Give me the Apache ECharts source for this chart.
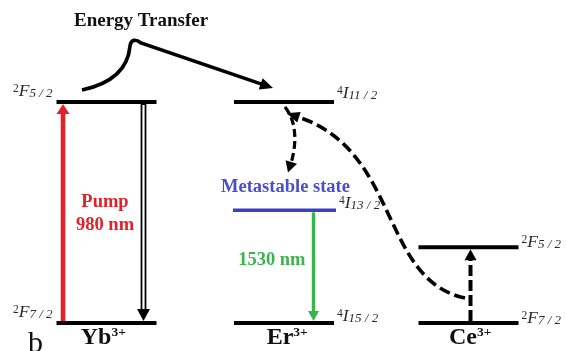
<!DOCTYPE html>
<html>
<head>
<meta charset="utf-8">
<script src="https://cdn.jsdelivr.net/npm/echarts@6/dist/echarts.min.js"></script>
<style>
  html, body { margin: 0; padding: 0; background: #fff; }
  #chart { width: 566px; height: 351px; }
</style>
</head>
<body>
<div id="chart"></div>
<script>
// ---- Data: relative energies of the levels (diagram scale, ×10³ cm⁻¹) ----
const ions = ['Yb', 'Er', 'Ce'];
const ionCharges = ['3+', '3+', '3+'];
const ybLevels = [0, 10.2];
const erLevels = [0, 5.2, 10.2];
const ceLevels = [0, 3.5];
// term symbols: [multiplicity, L letter, J]
const ybTerms = [['2', 'F', '7 / 2'], ['2', 'F', '5 / 2']];
const erTerms = [['4', 'I', '15 / 2'], ['4', 'I', '13 / 2'], ['4', 'I', '11 / 2']];
const ceTerms = [['2', 'F', '7 / 2'], ['2', 'F', '5 / 2']];
const pumpLabel = ['Pump', '980 nm'];
const emissionLabel = '1530 nm';
const metastableLabel = 'Metastable state';
const transferLabel = 'Energy Transfer';
const panelLetter = 'b';

// ---- Layout and styles ----
const SERIF = '"Liberation Serif", "DejaVu Serif", serif';
const RED = '#e1222b';
const GREEN = '#3bb44b';
const BLUE_LINE = '#3a3ec8';
const BLUE_TEXT = '#4b4fc9';
const INK = '#000';
const TERM_INK = '#2b2b2b';
const colX = { Yb: 106.5, Er: 284, Ce: 468.5 };
const LEVEL_HALF = 50;
const LEVEL_W = 4;
// vertical offset of each term label above its level line
const termDy = { left: -10.5, right: -6.5 };

// level records built from the arrays above
const levelItems = [];
function addLevels(ion, energies, terms, side) {
  energies.forEach((E, i) => {
    levelItems.push({ ion, E, term: terms[i], side, color: INK, width: LEVEL_W, half: LEVEL_HALF, dx: 0, dy: termDy[side] });
  });
}
addLevels('Yb', ybLevels, ybTerms, 'left');
addLevels('Er', erLevels, erTerms, 'right');
addLevels('Ce', ceLevels, ceTerms, 'right');
// the metastable Er level is drawn in blue with its caption
const meta = levelItems.find(d => d.ion === 'Er' && d.E === erLevels[1]);
Object.assign(meta, { color: BLUE_LINE, width: 3.5, half: 51.5, dx: 0.5, caption: metastableLabel });
levelItems.find(d => d.ion === 'Er' && d.E === erLevels[2]).dy = -8.5;
levelItems.filter(d => d.ion === 'Ce').forEach(d => { d.dy = -4.5; });

// radiative / excitation arrows
const transitionItems = [
  { ion: 'Yb', dx: -43.5, from: ybLevels[0], to: ybLevels[1], color: RED, width: 4.6, headLen: 10, headW: 13, kind: 'solid', label: 'pump' },
  { ion: 'Yb', dx: 37, from: ybLevels[1], to: ybLevels[0], color: INK, width: 5.8, headLen: 12, headW: 13, kind: 'double' },
  { ion: 'Er', dx: 29.5, from: erLevels[1], to: erLevels[0], color: GREEN, width: 3.4, headLen: 10, headW: 11, kind: 'solid', label: 'emission' },
  { ion: 'Ce', dx: 2, from: ceLevels[0], to: ceLevels[1], color: INK, width: 4, headLen: 11, headW: 12, kind: 'dashed' }
];

// curved energy-transfer / relaxation paths, anchored on levels
const curveItems = [
  { id: 'transfer', from: ['Yb', ybLevels[1]], to: ['Er', erLevels[2]] },
  { id: 'ceToEr', from: ['Ce', ceLevels[0]], to: ['Er', erLevels[2]] },
  { id: 'relax', from: ['Er', erLevels[2]], to: ['Er', erLevels[1]] }
];

function unit(a, b) {
  const dx = b[0] - a[0], dy = b[1] - a[1];
  const l = Math.hypot(dx, dy) || 1;
  return [dx / l, dy / l];
}
function headPoints(tip, dir, len, wid) {
  const bx = tip[0] - dir[0] * len, by = tip[1] - dir[1] * len;
  const px = -dir[1], py = dir[0];
  return [[tip[0], tip[1]], [bx + px * wid / 2, by + py * wid / 2], [bx - px * wid / 2, by - py * wid / 2]];
}
function add(p, d) { return [p[0] + d[0], p[1] + d[1]]; }

const termRich = {
  s: { fontFamily: SERIF, fontSize: 11.5, fill: TERM_INK, verticalAlign: 'top', lineHeight: 11 },
  L: { fontFamily: SERIF, fontSize: 17.5, fontStyle: 'italic', fill: TERM_INK, lineHeight: 17 },
  j: { fontFamily: SERIF, fontSize: 13, fontStyle: 'italic', fill: TERM_INK, verticalAlign: 'bottom', lineHeight: 12 }
};

function renderLevel(params, api) {
  const it = levelItems[params.dataIndex];
  const cx = colX[it.ion] + it.dx;
  const a = api.coord([cx - it.half, it.E]);
  const b = api.coord([cx + it.half, it.E]);
  const t = it.term;
  const children = [
    { type: 'line', shape: { x1: a[0], y1: a[1], x2: b[0], y2: b[1] }, style: { stroke: it.color, lineWidth: it.width } },
    {
      type: 'text',
      x: it.side === 'left' ? a[0] - 4 : b[0] + 3,
      y: a[1] + it.dy,
      style: {
        text: '{s|' + t[0] + '}{L|' + t[1] + '}{j|' + t[2] + '}',
        rich: termRich,
        align: it.side === 'left' ? 'right' : 'left',
        verticalAlign: 'middle'
      }
    }
  ];
  if (it.caption) {
    children.push({
      type: 'text', x: (a[0] + b[0]) / 2 + 1, y: a[1] - 23.5,
      style: { text: it.caption, fontFamily: SERIF, fontWeight: 'bold', fontSize: 18.5, fill: BLUE_TEXT, align: 'center', verticalAlign: 'middle' }
    });
  }
  return { type: 'group', children };
}

function renderTransition(params, api) {
  const t = transitionItems[params.dataIndex];
  const x = colX[t.ion] + t.dx;
  const p0 = api.coord([x, t.from]);
  const p1 = api.coord([x, t.to]);
  const dir = unit(p0, p1);
  const inset = LEVEL_W / 2;
  const start = [p0[0] + dir[0] * inset, p0[1] + dir[1] * inset];
  const tip = [p1[0] - dir[0] * inset, p1[1] - dir[1] * inset];
  const base = [tip[0] - dir[0] * (t.headLen - 1), tip[1] - dir[1] * (t.headLen - 1)];
  const children = [];
  const shaft = { x1: start[0], y1: start[1], x2: base[0], y2: base[1] };
  if (t.kind === 'double') {
    children.push({ type: 'line', shape: shaft, style: { stroke: t.color, lineWidth: t.width } });
    children.push({ type: 'line', shape: { x1: start[0], y1: start[1] + 1, x2: base[0], y2: base[1] - 1 }, style: { stroke: '#fff', lineWidth: 2.2 } });
  } else {
    children.push({ type: 'line', shape: shaft, style: { stroke: t.color, lineWidth: t.width, lineDash: t.kind === 'dashed' ? [11, 4] : null } });
  }
  children.push({ type: 'polygon', shape: { points: headPoints(tip, dir, t.headLen, t.headW) }, style: { fill: t.color } });

  if (t.label === 'pump') {
    const mid = (p0[1] + p1[1]) / 2;
    children.push({
      type: 'text', x: x + 42, y: mid + 1,
      style: { text: pumpLabel.join('\n'), fontFamily: SERIF, fontWeight: 'bold', fontSize: 18.5, lineHeight: 23.5, fill: RED, align: 'center', verticalAlign: 'middle' }
    });
  } else if (t.label === 'emission') {
    const mid = (p0[1] + p1[1]) / 2;
    children.push({
      type: 'text', x: x - 8, y: mid - 6,
      style: { text: emissionLabel, fontFamily: SERIF, fontWeight: 'bold', fontSize: 18.5, fill: GREEN, align: 'right', verticalAlign: 'middle' }
    });
  }
  return { type: 'group', children };
}

function renderCurve(params, api) {
  const c = curveItems[params.dataIndex];
  const children = [];
  if (c.id === 'transfer') {
    // rises from the Yb excited level, hooks over and runs down to the Er 4I11/2 level
    const S = add(api.coord([colX.Yb - 24.5, c.from[1]]), [0, -12]);
    const T = add(api.coord([colX.Er - 11, c.to[1]]), [0, -14]);
    const c1 = add(S, [28, -6]), c2 = add(S, [46, -20]), k = add(S, [48, -44]);
    const c3 = add(S, [49, -51]), c4 = add(S, [54, -51]), k2 = add(S, [59, -47]);
    const dir = unit(k2, T);
    const base = [T[0] - dir[0] * 12, T[1] - dir[1] * 12];
    const d = 'M' + S + 'C' + c1 + ' ' + c2 + ' ' + k + 'C' + c3 + ' ' + c4 + ' ' + k2 + 'L' + base;
    children.push({ type: 'path', shape: { pathData: d }, style: { stroke: INK, lineWidth: 3.6, fill: null } });
    children.push({ type: 'polygon', shape: { points: headPoints(T, dir, 13, 12) }, style: { fill: INK } });
    children.push({
      type: 'text', x: 74, y: 20.6,
      style: { text: transferLabel, fontFamily: SERIF, fontWeight: 'bold', fontSize: 19, fill: '#111', align: 'left', verticalAlign: 'middle' }
    });
  } else if (c.id === 'ceToEr') {
    // dashed S-curve from the Ce ground state back up to Er 4I11/2
    const S = add(api.coord([colX.Ce - 3.5, c.from[1]]), [0, -25]);
    const T = add(api.coord([colX.Er + 2, c.to[1]]), [0, 11]);
    const c1 = add(S, [-85, -18]);
    const c2 = add(S, [-65, -148]);
    const B = add(T, [12, 4]);
    const dir = unit(c2, B);
    children.push({
      type: 'bezierCurve',
      shape: { x1: S[0], y1: S[1], cpx1: c1[0], cpy1: c1[1], cpx2: c2[0], cpy2: c2[1], x2: B[0], y2: B[1] },
      style: { stroke: INK, lineWidth: 3.6, fill: null, lineDash: [11, 5] }
    });
    children.push({ type: 'polygon', shape: { points: headPoints(add(B, [dir[0] * 12, dir[1] * 12]), dir, 13, 11) }, style: { fill: INK } });
  } else {
    // non-radiative decay 4I11/2 -> 4I13/2
    const S = add(api.coord([colX.Er + 1, c.from[1]]), [0, 5]);
    const c1 = add(S, [13, 16]), c2 = add(S, [11, 40]);
    const B = add(S, [6, 56]);
    const dir = unit(c2, B);
    children.push({
      type: 'bezierCurve',
      shape: { x1: S[0], y1: S[1], cpx1: c1[0], cpy1: c1[1], cpx2: c2[0], cpy2: c2[1], x2: B[0], y2: B[1] },
      style: { stroke: INK, lineWidth: 3.2, fill: null, lineDash: [8, 4] }
    });
    children.push({ type: 'polygon', shape: { points: headPoints(add(B, [dir[0] * 10, dir[1] * 10]), dir, 11, 12) }, style: { fill: INK } });
  }
  return { type: 'group', children };
}

// ion names under the ground levels
const ionLabelDx = { Yb: -25.8, Er: -17.3, Ce: -19.5 };
function renderIon(params, api) {
  const ion = ions[params.dataIndex];
  const p = api.coord([colX[ion], 0]);
  return {
    type: 'text', x: p[0] + ionLabelDx[ion], y: p[1] + 14.5,
    style: {
      text: '{n|' + ion + '}{c|' + ionCharges[params.dataIndex] + '}',
      rich: {
        n: { fontFamily: SERIF, fontWeight: 'bold', fontSize: 24, fill: '#111', lineHeight: 23 },
        c: { fontFamily: SERIF, fontWeight: 'bold', fontSize: 13.5, fill: '#111', verticalAlign: 'top', lineHeight: 13 }
      },
      align: 'left', verticalAlign: 'middle'
    }
  };
}

const chart = echarts.init(document.getElementById('chart'), null, { renderer: 'canvas' });
chart.setOption({
  animation: false,
  grid: { left: 0, right: 0, top: 102, bottom: 28 },
  xAxis: { type: 'value', min: 0, max: 566, show: false },
  yAxis: { type: 'value', min: 0, max: 10.2, show: false },
  series: [
    { type: 'custom', name: 'transitions', coordinateSystem: 'cartesian2d', clip: false, silent: true, z: 2,
      data: transitionItems.map(t => [colX[t.ion] + t.dx, t.to]), renderItem: renderTransition },
    { type: 'custom', name: 'levels', coordinateSystem: 'cartesian2d', clip: false, silent: true, z: 3,
      data: levelItems.map(d => [colX[d.ion], d.E]), renderItem: renderLevel },
    { type: 'custom', name: 'transfer paths', coordinateSystem: 'cartesian2d', clip: false, silent: true, z: 4,
      data: curveItems.map(c => [colX[c.to[0]], c.to[1]]), renderItem: renderCurve },
    { type: 'custom', name: 'ions', coordinateSystem: 'cartesian2d', clip: false, silent: true, z: 3,
      data: ions.map(ion => [colX[ion], 0]), renderItem: renderIon }
  ],
  graphic: [
    { type: 'text', x: 28, y: 344, silent: true,
      style: { text: panelLetter, fontFamily: SERIF, fontSize: 30, fill: '#111', align: 'left', verticalAlign: 'middle' } }
  ]
});
</script>
</body>
</html>
